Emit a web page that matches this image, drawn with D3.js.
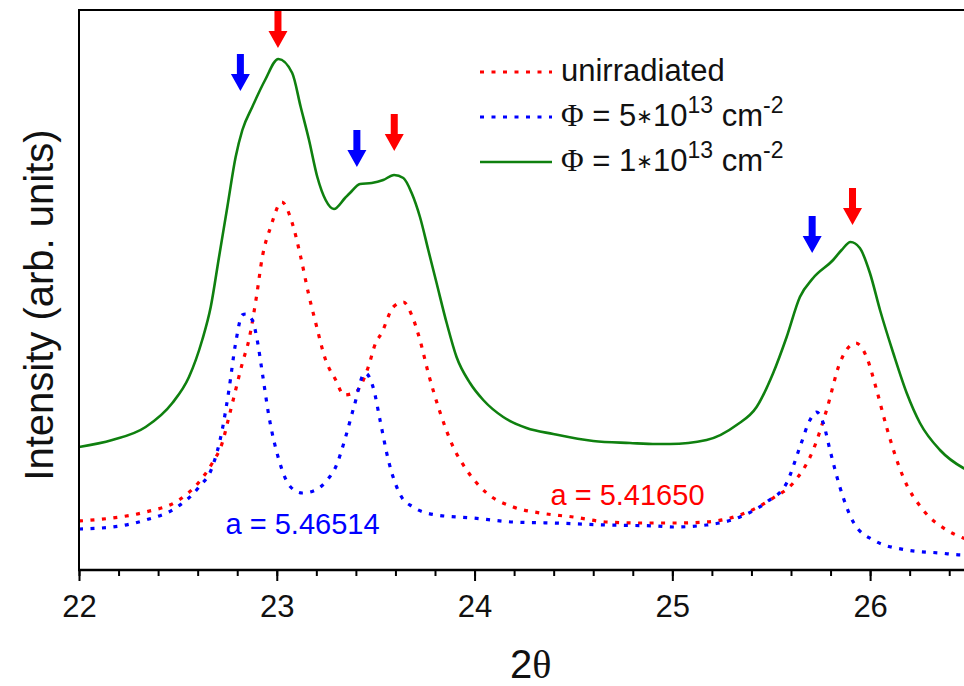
<!DOCTYPE html>
<html>
<head>
<meta charset="utf-8">
<script src="https://cdn.jsdelivr.net/npm/d3@7"></script>
<style>
  html, body { margin: 0; padding: 0; background: #fff; }
  svg { display: block; font-family: "Liberation Sans", Arial, sans-serif; }
</style>
</head>
<body>
<svg id="chart" width="964" height="686"></svg>
<script>
// XRD scans, intensity in arbitrary units versus 2θ (degrees)
const unirrTheta = [22.000, 22.168, 22.337, 22.506, 22.607, 22.674, 22.724, 22.758, 22.792, 22.826, 22.859, 22.897, 22.927, 22.969, 23.025, 23.078, 23.121, 23.163, 23.197, 23.247, 23.298, 23.340, 23.399, 23.461, 23.500, 23.530, 23.589, 23.640, 23.682, 23.724, 23.766, 23.825, 23.892, 23.960, 24.061, 24.196, 24.331, 24.499, 24.668, 24.836, 25.005, 25.173, 25.342, 25.510, 25.611, 25.712, 25.780, 25.847, 25.928, 25.982, 26.033, 26.083, 26.167, 26.268, 26.387, 26.471, 26.500];
const unirrI     = [49, 52, 58, 70, 88, 107, 127, 153, 180, 207, 230, 273, 313, 343, 368, 347, 313, 274, 247, 210, 190, 175, 178, 202, 227, 237, 263, 268, 255, 230, 197, 158, 123, 100, 77, 63, 57, 53, 48, 47, 47, 48, 55, 72, 87, 120, 160, 207, 227, 213, 180, 143, 93, 60, 40, 32, 30];

const flu5Theta = [22.000, 22.168, 22.337, 22.489, 22.607, 22.674, 22.724, 22.758, 22.792, 22.826, 22.843, 22.876, 22.901, 22.927, 22.961, 23.011, 23.070, 23.129, 23.197, 23.255, 23.298, 23.348, 23.390, 23.446, 23.491, 23.522, 23.564, 23.631, 23.690, 23.808, 23.993, 24.196, 24.398, 24.668, 24.921, 25.005, 25.173, 25.342, 25.477, 25.578, 25.645, 25.696, 25.729, 25.763, 25.797, 25.847, 25.915, 26.016, 26.185, 26.353, 26.471, 26.500];
const flu5I     = [41, 43, 50, 62, 83, 103, 140, 180, 227, 255, 256, 250, 230, 197, 153, 110, 83, 77, 80, 90, 103, 133, 163, 197, 180, 150, 110, 73, 63, 55, 52, 48, 47, 45, 44, 43, 45, 53, 68, 87, 123, 150, 158, 147, 120, 83, 48, 30, 20, 17, 15, 15];

const flu1Theta = [22.000, 22.168, 22.337, 22.472, 22.556, 22.623, 22.666, 22.708, 22.750, 22.792, 22.826, 22.876, 22.941, 23.008, 23.078, 23.121, 23.163, 23.205, 23.247, 23.289, 23.345, 23.370, 23.421, 23.480, 23.538, 23.593, 23.640, 23.682, 23.724, 23.766, 23.808, 23.859, 23.909, 23.977, 24.044, 24.145, 24.263, 24.398, 24.600, 24.786, 24.921, 24.988, 25.173, 25.325, 25.426, 25.510, 25.578, 25.645, 25.712, 25.813, 25.856, 25.901, 25.948, 25.999, 26.050, 26.117, 26.185, 26.252, 26.353, 26.471, 26.500];
const flu1I     = [123, 130, 143, 167, 193, 230, 263, 313, 363, 413, 440, 463, 490, 511, 497, 463, 430, 393, 370, 361, 372, 377, 386, 387, 390, 395, 392, 377, 353, 320, 287, 247, 213, 187, 170, 153, 142, 136, 129, 127, 126, 126, 130, 145, 163, 197, 233, 273, 292, 310, 320, 328, 322, 297, 260, 217, 177, 147, 120, 102, 99];

// Peak markers: position (2θ) and intensity at the arrow tip
const redArrowTheta  = [23.006, 23.594, 25.911];
const redArrowI      = [522, 419, 345];
const blueArrowTheta = [22.816, 23.405, 25.707];
const blueArrowI     = [479, 403, 317];

const xTicks = [22, 23, 24, 25, 26];
// legend entries: symbol, mantissa, exponent, unit, unit exponent
const seriesNames = [
  ["unirradiated"],
  ["Φ", " = 5", "10", "13", " cm", "-2"],
  ["Φ", " = 1", "10", "13", " cm", "-2"]
];
const latticeLabels = ["a = 5.46514", "a = 5.41650"];
const latticeTheta  = [22.741, 24.384];
const latticeI      = [36, 65];

const svg = d3.select("#chart");
const padL = 79, padT = 10, axisY = 570, padR = 969;

const x = d3.scaleLinear().domain([22, 26.5]).range([padL, padR]);
const y = d3.scaleLinear().domain([0, 560]).range([axisY, padT]);

svg.append("defs").append("clipPath").attr("id", "plotClip")
  .append("rect").attr("x", padL).attr("y", padT).attr("width", 964 - padL).attr("height", axisY - padT);

const line = d3.line().x(d => x(d[0])).y(d => y(d[1])).curve(d3.curveMonotoneX);
const zip = (a, b) => a.map((v, i) => [v, b[i]]);

const plot = svg.append("g").attr("clip-path", "url(#plotClip)");

const series = [
  { data: zip(unirrTheta, unirrI), color: "#ff0000", dash: "4,7.5", width: 3.2 },
  { data: zip(flu5Theta, flu5I), color: "#0000ff", dash: "4,7.5", width: 3.2 },
  { data: zip(flu1Theta, flu1I), color: "#0f800f", dash: null, width: 2.6 }
];

series.forEach(s => {
  plot.append("path")
    .attr("d", line(s.data))
    .attr("fill", "none")
    .attr("stroke", s.color)
    .attr("stroke-width", s.width)
    .attr("stroke-dasharray", s.dash);
});

// Down arrows marking the peak positions
function drawArrows(thetas, ints, color) {
  thetas.forEach((t, i) => {
    const cx = x(t), tip = y(ints[i]);
    const len = 37, head = 17, hw = 9.5, sw = 3.5;
    const p = [
      [cx - sw, tip - len], [cx + sw, tip - len], [cx + sw, tip - head],
      [cx + hw, tip - head], [cx, tip], [cx - hw, tip - head], [cx - sw, tip - head]
    ];
    svg.append("polygon").attr("points", p.map(q => q.join(",")).join(" ")).attr("fill", color);
  });
}
drawArrows(redArrowTheta, redArrowI, "#ff0000");
drawArrows(blueArrowTheta, blueArrowI, "#0000ff");

// Frame: left axis and top border
svg.append("line").attr("x1", padL).attr("x2", padL).attr("y1", padT - 1).attr("y2", axisY)
  .attr("stroke", "#000").attr("stroke-width", 2);
svg.append("line").attr("x1", padL - 1).attr("x2", 964).attr("y1", padT).attr("y2", padT)
  .attr("stroke", "#000").attr("stroke-width", 2);

// Bottom axis with minor ticks every 0.2
const xAxis = svg.append("g").attr("transform", `translate(0,${axisY})`);
xAxis.call(d3.axisBottom(x).tickValues(d3.range(22, 26.51, 0.2)).tickSize(6).tickFormat(""));
xAxis.call(g => g.select(".domain").remove());
const xMajor = svg.append("g").attr("transform", `translate(0,${axisY})`);
xMajor.call(d3.axisBottom(x).tickValues(xTicks).tickSize(11).tickFormat(d3.format("d")).tickPadding(14));
xMajor.select(".domain").remove();
svg.selectAll(".tick line").attr("stroke", "#000").attr("stroke-width", 2);
xMajor.selectAll(".tick text")
  .attr("font-family", "Liberation Sans, Arial, sans-serif")
  .attr("font-size", 31).attr("fill", "#111");
svg.append("line").attr("x1", padL - 1).attr("x2", 964).attr("y1", axisY).attr("y2", axisY)
  .attr("stroke", "#000").attr("stroke-width", 2.4);

// Axis titles
const xt = svg.append("text").attr("x", 510).attr("y", 678).attr("font-size", 40).attr("fill", "#111");
xt.append("tspan").text("2");
xt.append("tspan").attr("font-family", "Liberation Serif, serif").text("θ");

svg.append("text")
  .attr("transform", "translate(53,305) rotate(-90)")
  .attr("text-anchor", "middle")
  .attr("font-size", 40).attr("fill", "#111")
  .text("Intensity (arb. units)");

// Lattice constant labels
svg.append("text").attr("x", x(latticeTheta[0])).attr("y", y(latticeI[0]))
  .attr("font-size", 29).attr("fill", "#0000ff").text(latticeLabels[0]);
svg.append("text").attr("x", x(latticeTheta[1])).attr("y", y(latticeI[1]))
  .attr("font-size", 29).attr("fill", "#ff0000").text(latticeLabels[1]);

// Legend
const legend = svg.append("g");
const rowY = [72, 117, 162];
series.forEach((s, i) => {
  legend.append("line").attr("x1", 480).attr("x2", 552).attr("y1", rowY[i]).attr("y2", rowY[i])
    .attr("stroke", s.color).attr("stroke-width", s.width).attr("stroke-dasharray", s.dash);
  const t = legend.append("text").attr("x", 561).attr("y", rowY[i] + 9)
    .attr("font-size", 31).attr("fill", "#111");
  const p = seriesNames[i];
  if (p.length === 1) {
    t.text(p[0]);
  } else {
    t.append("tspan").attr("font-family", "Liberation Serif, serif").text(p[0]);
    t.append("tspan").text(p[1]);
    t.append("tspan").attr("font-family", "DejaVu Sans, sans-serif").attr("font-size", 20).attr("dy", -3).text("∗");
    t.append("tspan").attr("dy", 3).text(p[2]);
    t.append("tspan").attr("font-size", 23).attr("dy", -13).text(p[3]);
    t.append("tspan").attr("dy", 13).text(p[4]);
    t.append("tspan").attr("font-size", 23).attr("dy", -13).text(p[5]);
  }
});
</script>
</body>
</html>
